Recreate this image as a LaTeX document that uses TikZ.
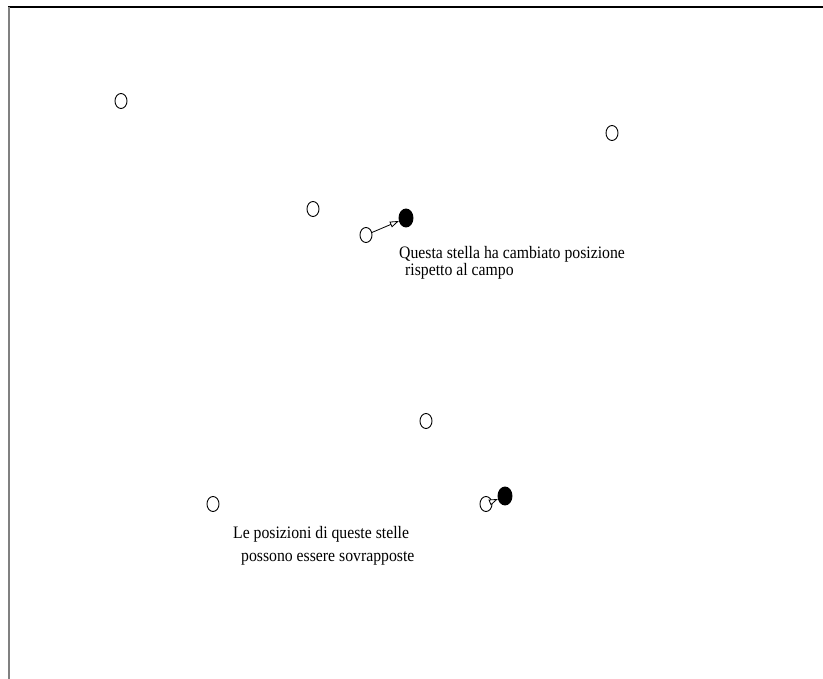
\documentclass[tikz,border=0pt]{standalone}
\usepackage{fontspec}
\setmainfont{Liberation Serif}
\usetikzlibrary{shapes.geometric,arrows.meta}
\begin{document}
\begin{tikzpicture}[x=1pt,y=-1pt,
  star/.style={ellipse,draw,line width=0.9pt,inner sep=0pt,minimum width=12pt,minimum height=15pt},
  movedstar/.style={ellipse,draw,fill=black,line width=0.9pt,inner sep=0pt,minimum width=14pt,minimum height=18pt},
  motion/.style={line width=0.8pt,-{Triangle[length=9pt,width=6pt,fill=white]}},
  caption/.style={anchor=base west,inner sep=0pt,font=\fontsize{17.5}{17.5}\selectfont,xscale=0.9}]
\useasboundingbox (0,0) rectangle (823,679);
% frame edges
\draw[line width=1.2pt] (8,7) -- (823,7);
\draw[line width=2pt,gray] (9,7) -- (9,679);
% field stars
\node[star] (s1) at (121,101) {};
\node[star] (s2) at (612,133) {};
\node[star] (s3) at (313,209) {};
\node[star] (s5) at (426,421) {};
\node[star] (s6) at (213,504) {};
% star with proper motion
\node[star] (o4) at (366,235) {};
\node[movedstar] (f4) at (406,218) {};
\draw[motion] (o4) -- (f4);
% overlapping pair
\node[star] (o7) at (486,504) {};
\node[movedstar] (f7) at (505,496) {};
\draw[motion] (o7) -- (f7);
% captions
\node[caption] (t1) at (399,258.5) {Questa stella ha cambiato posizione};
\node[caption] (t2) at (405,276) {rispetto al campo};
\node[caption] (t3) at (233,538) {Le posizioni di queste stelle};
\node[caption] (t4) at (241,561) {possono essere sovrapposte};
\end{tikzpicture}
\end{document}
